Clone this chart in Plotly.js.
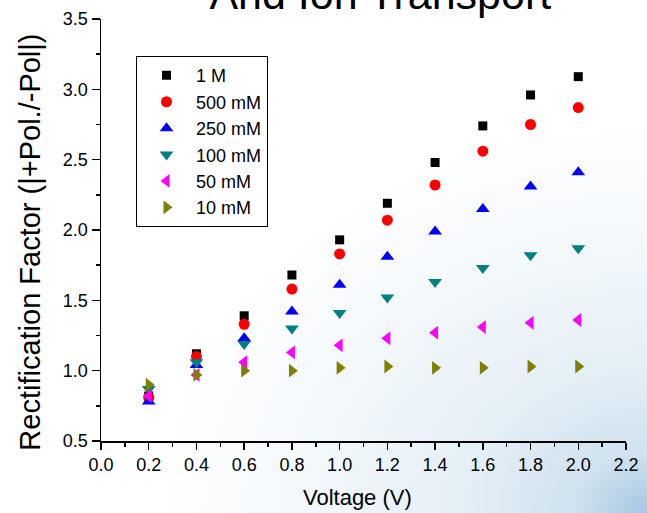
<!DOCTYPE html>
<html>
<head>
<meta charset="utf-8">
<script src="https://cdn.plot.ly/plotly-3.0.1.min.js"></script>
<style>
html, body { margin: 0; padding: 0; }
body {
  width: 647px; height: 513px; overflow: hidden;
  background: radial-gradient(ellipse 95% 95% at 100% 100%, #a6c6e2 0%, #cfe2ef 12%, #e4eff6 30%, #f3f8fb 55%, #ffffff 80%);
}
#chart { width: 647px; height: 513px; }
</style>
</head>
<body>
<div id="chart"></div>
<script>
const voltage = [0.2, 0.4, 0.6, 0.8, 1.0, 1.2, 1.4, 1.6, 1.8, 2.0];
const rf1M   = [0.82, 1.12, 1.39, 1.68, 1.93, 2.19, 2.48, 2.74, 2.96, 3.09];
const rf500  = [0.81, 1.10, 1.33, 1.58, 1.83, 2.07, 2.32, 2.56, 2.75, 2.87];
const rf250  = [0.78, 1.04, 1.23, 1.42, 1.61, 1.81, 1.99, 2.15, 2.31, 2.41];
const rf100  = [0.87, 1.06, 1.19, 1.30, 1.41, 1.52, 1.63, 1.73, 1.82, 1.87];
const rf50   = [0.82, 0.97, 1.06, 1.13, 1.18, 1.23, 1.27, 1.31, 1.34, 1.36];
const rf10   = [0.90, 0.97, 1.00, 1.00, 1.02, 1.03, 1.02, 1.02, 1.03, 1.03];
const seriesNames = ["1 M", "500 mM", "250 mM", "100 mM", "50 mM", "10 mM"];
const xTitle = "Voltage (V)";
const yTitle = "Rectification Factor (|+Pol./-Pol|)";
const chartTitle = "And Ion Transport";

const seriesValues = [rf1M, rf500, rf250, rf100, rf50, rf10];
const symbols = ["square", "circle", "triangle-up", "triangle-down", "triangle-left", "triangle-right"];
const colors = ["#000000", "#ff0000", "#0000ff", "#008080", "#ff00ff", "#808000"];
const sizes = [9, 11, 12, 12, 12, 12];

const traces = seriesValues.map((vals, i) => ({
  type: "scatter",
  mode: "markers",
  name: seriesNames[i],
  x: voltage,
  y: vals,
  marker: { symbol: symbols[i], color: colors[i], size: sizes[i], line: { width: 0 } }
}));

const font = "Arial, 'Liberation Sans', sans-serif";
// invisible padding used only to nudge the centred axis titles
const pad = (s) => '<span style="color:rgba(0,0,0,0)">' + s + '</span>';
const layout = {
  width: 647, height: 513,
  margin: { l: 101, r: 21, t: 19, b: 72 },
  paper_bgcolor: "rgba(0,0,0,0)",
  plot_bgcolor: "rgba(0,0,0,0)",
  font: { family: font, color: "#000" },
  title: {
    text: chartTitle,
    font: { family: font, size: 43, color: "#000" },
    x: 0.532, xanchor: "center", xref: "paper",
    y: 0.982, yanchor: "bottom", yref: "container"
  },
  showlegend: true,
  legend: {
    x: 0.0667, y: 0.912, xanchor: "left", yanchor: "top",
    bgcolor: "rgba(255,255,255,0)",
    bordercolor: "#000", borderwidth: 1,
    font: { family: font, size: 18, color: "#000" },
    itemwidth: 49
  },
  xaxis: {
    range: [0, 2.2], dtick: 0.2, tick0: 0, tickformat: ".1f",
    showline: true, linecolor: "#000", linewidth: 1.5,
    ticks: "outside", ticklen: 7, tickwidth: 1.5, tickcolor: "#000",
    minor: { dtick: 0.1, ticks: "outside", ticklen: 4, tickwidth: 1.5, tickcolor: "#000" },
    showgrid: false, zeroline: false,
    tickfont: { family: font, size: 18, color: "#000" },
    title: { text: xTitle + pad("0"), font: { family: font, size: 22, color: "#000" }, standoff: 15 }
  },
  yaxis: {
    range: [0.5, 3.5], dtick: 0.5, tick0: 0.5, tickformat: ".1f",
    showline: true, linecolor: "#000", linewidth: 1.5,
    ticks: "outside", ticklen: 8, tickwidth: 1.5, tickcolor: "#000",
    minor: { dtick: 0.25, ticks: "outside", ticklen: 4, tickwidth: 1.5, tickcolor: "#000" },
    showgrid: false, zeroline: false,
    tickfont: { family: font, size: 18, color: "#000" },
    title: { text: yTitle + pad("0t"), font: { family: font, size: 29, color: "#000" }, standoff: 13 }
  }
};

Plotly.newPlot("chart", traces, layout, { displayModeBar: false, staticPlot: true });
</script>
</body>
</html>
